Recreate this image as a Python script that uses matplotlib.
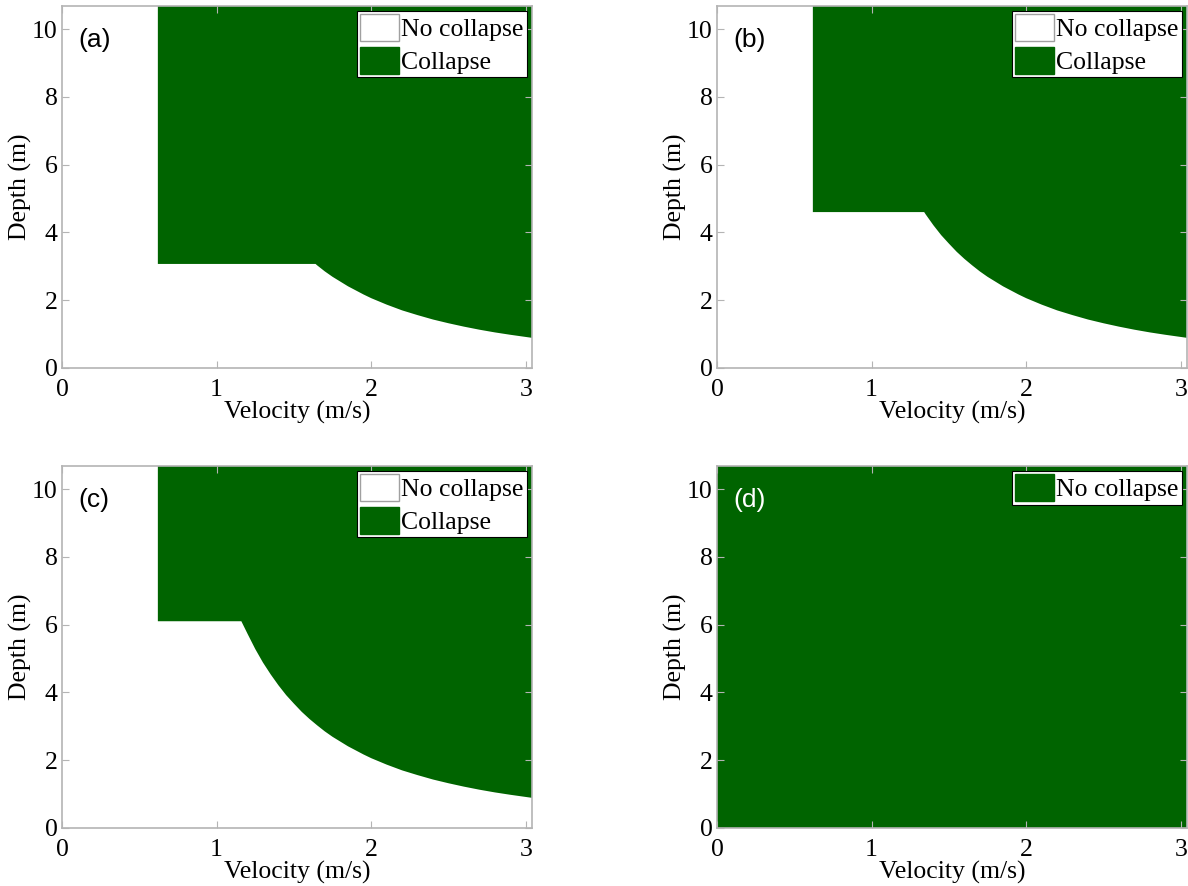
import numpy as np
import matplotlib.pyplot as plt
from matplotlib.patches import Patch

# values
panel_labels = ['(a)', '(b)', '(c)', '(d)']
v_min = 0.62                      # collapse only above this velocity
depth_thresh = [3.07, 4.6, 6.1]   # flat part of the boundary, panels a-c
v_curve_start = [1.64, 1.34, 1.16]

# curved part of the boundary (velocity, depth)
curve_v = [1.1, 1.15, 1.2, 1.25, 1.3, 1.35, 1.4, 1.45, 1.5, 1.55, 1.6, 1.65,
           1.7, 1.75, 1.8, 1.85, 1.9, 1.95, 2.0, 2.1, 2.2, 2.3, 2.4, 2.5,
           2.6, 2.7, 2.8, 2.9, 3.04]
curve_d = [6.82, 6.24, 5.73, 5.28, 4.88, 4.53, 4.21, 3.92, 3.67, 3.43, 3.22,
           3.03, 2.85, 2.69, 2.55, 2.41, 2.29, 2.17, 2.06, 1.87, 1.70, 1.56,
           1.43, 1.32, 1.22, 1.13, 1.05, 0.98, 0.89]

x_max = 3.04
y_max = 10.68
green = '#006400'
spine_col = '#b4b4b4'

plt.rcParams['font.family'] = ['Liberation Serif', 'DejaVu Serif']
plt.rcParams['font.size'] = 18.5

fig = plt.figure(figsize=(11.88, 8.86), dpi=100)

W = 1188.0
H = 886.0
boxes = [(62, 6), (717, 6), (62, 466), (717, 466)]
aw, ah = 470, 362


def style_axes(ax):
    ax.set_xlim(0, x_max)
    ax.set_ylim(0, y_max)
    ax.set_xticks([0, 1, 2, 3])
    ax.set_yticks([0, 2, 4, 6, 8, 10])
    for s in ax.spines.values():
        s.set_color(spine_col)
        s.set_linewidth(1.2)
    ax.tick_params(direction='in', length=5, color=spine_col, top=True,
                   right=True, labelsize=18.5)
    ax.tick_params(axis='x', pad=8)
    ax.tick_params(axis='y', pad=3)
    ax.set_xlabel('Velocity (m/s)', fontsize=18.5, labelpad=0)
    ax.set_ylabel('Depth (m)', fontsize=18.5, labelpad=0)


for i, (l, t) in enumerate(boxes):
    ax = fig.add_axes([l / W, (H - t - ah) / H, aw / W, ah / H])
    style_axes(ax)

    if i < 3:
        th = depth_thresh[i]
        vs = v_curve_start[i]
        xs = [v_min, v_min, vs]
        ys = [y_max, th, th]
        for v, d in zip(curve_v, curve_d):
            if v > vs:
                xs.append(v)
                ys.append(d)
        xs.append(x_max)
        ys.append(y_max)
        ax.fill(xs, ys, color=green, lw=0, zorder=1)
        handles = [Patch(facecolor='white', edgecolor='#a0a0a0', label='No collapse'),
                   Patch(facecolor=green, edgecolor=green, label='Collapse')]
        lab_col = 'black'
    else:
        ax.fill([0, 0, x_max, x_max], [0, y_max, y_max, 0], color=green, lw=0, zorder=1)
        handles = [Patch(facecolor=green, edgecolor=green, label='No collapse')]
        lab_col = 'white'

    leg = ax.legend(handles=handles, loc='upper right', fancybox=False,
                    framealpha=1, edgecolor='black', fontsize=18.5,
                    handlelength=1.5, handleheight=1.25, handletextpad=0.1,
                    borderpad=0.12, labelspacing=0.2, borderaxespad=0.2)
    leg.get_frame().set_linewidth(0.8)

    ax.text(0.035, 0.905, panel_labels[i], transform=ax.transAxes,
            fontsize=19, family=['Liberation Sans', 'DejaVu Sans'],
            color=lab_col, va='center', ha='left', zorder=5)

fig.savefig('out.png', dpi=100)
